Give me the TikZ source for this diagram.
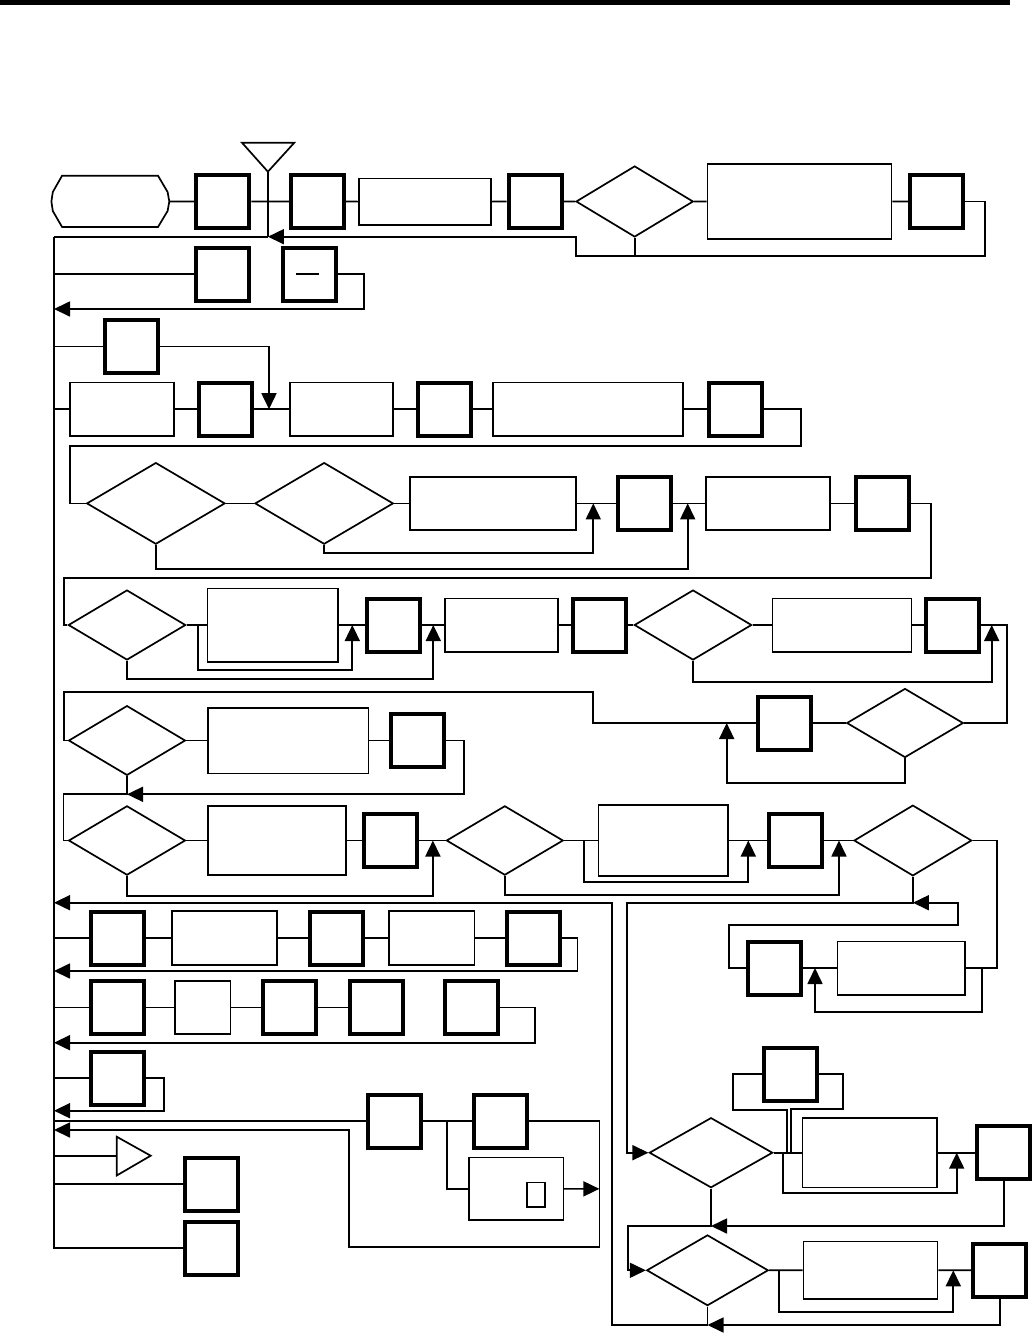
\documentclass[tikz,border=0pt]{standalone}
\usetikzlibrary{arrows.meta,shapes.geometric}
\tikzset{
 ln/.style={line width=1.7pt},
 arr/.style={line width=1.7pt,-{Triangle[length=16pt,width=15pt]}},
 tb/.style={draw,rectangle,line width=4pt,minimum width=53pt,minimum height=53pt,inner sep=0pt},
 trc/.style={draw,rectangle,line width=1.7pt,inner sep=0pt},
 dia/.style={draw,diamond,line width=1.7pt,inner sep=0pt},
}
\newcommand\trect[5]{\node[trc,minimum width={#4-#2-1.7},minimum height={#5-#3-1.7}] (#1) at ({(#2+#4)/2},{(#3+#5)/2}) {};}
\newcommand\dia[5]{\node[dia,minimum width={#3-#2},minimum height={#5}] (#1) at ({(#2+#3)/2},#4) {};}
\begin{document}
\begin{tikzpicture}[x=1pt,y=-1pt]
\useasboundingbox (0,0) rectangle (1033,1334);
\fill (0,0) rectangle (1010,4.5);

% ---------- nodes ----------
% row 1
\node[minimum width=118pt,minimum height=51pt,inner sep=0pt] (term) at (110.4,201.5) {};
\draw[ln] (62.1,175.7) -- (158,175.7) -- (167.6,192) -- (169.3,201.5) -- (167.6,211) -- (158,227) -- (62.1,227) -- (52.8,211) -- (51.4,201.5) -- (52.8,192) -- cycle;
\node[tb] (b1) at (222.9,201.5) {};
\node[tb] (b2) at (317.5,201.5) {};
\trect{r3}{357.9}{177.7}{491.8}{225.5}
\node[tb] (b4) at (535,201.5) {};
\dia{d5}{576}{693.3}{201.5}{71}
\trect{r6}{706.7}{163.3}{892.3}{239.7}
\node[tb] (b7) at (936.4,201.5) {};
\draw[ln] (242,142.7) -- (294.3,142.7) -- (267.9,171.7) -- cycle;
\coordinate (triT) at (267.9,171.7);
\coordinate (tap) at (267.9,236.7);
\coordinate (Ltop) at (54,236.7);
\coordinate (Lbot) at (54,1248);

% row 2
\node[tb] (b21) at (222.9,274.3) {};
\node[tb] (b22) at (309.7,274.3) {};
\draw[ln] ([xshift=-13.3pt]b22.center) -- ([xshift=8.9pt]b22.center);
% row 3
\node[tb] (b3) at (131.4,346.4) {};
% row 4
\trect{r41}{69.3}{381.7}{175}{436.7}
\node[tb] (b41) at (225.4,409.2) {};
\trect{r42}{289.3}{381.7}{393.6}{436.7}
\node[tb] (b42) at (444.5,409.2) {};
\trect{r43}{491.8}{381.7}{684}{436.7}
\node[tb] (b43) at (735.4,409.2) {};
% row 5
\dia{A}{86.7}{225}{503.4}{81.6}
\dia{B}{255}{393.3}{503.4}{81.6}
\trect{C}{409.3}{475.9}{576.7}{530.9}
\node[tb] (D) at (644.7,503.4) {};
\trect{E}{705}{475.9}{831}{530.9}
\node[tb] (F) at (882,503.4) {};
% row 6
\dia{G}{68.3}{185.7}{625}{70}
\trect{H}{206.7}{587.5}{339}{662.5}
\node[tb] (I) at (393.7,625) {};
\trect{J}{444.3}{597.5}{559}{652.5}
\node[tb] (K) at (599.4,625) {};
\dia{L}{634.3}{751.7}{625}{70}
\trect{M}{771.7}{597.5}{912.3}{652.5}
\node[tb] (N) at (952.5,625) {};
% row 7
\dia{P}{846.7}{963.3}{723}{69}
\node[tb] (Q) at (784.2,723) {};
\dia{R}{68.6}{185.4}{740.5}{69.7}
\trect{S}{206.8}{706.8}{369.3}{774.2}
\node[tb] (T) at (417.5,740.5) {};
% row 8
\dia{U}{68.6}{185.4}{840.5}{69.3}
\trect{V}{206.8}{805}{347.1}{876}
\node[tb] (W) at (390.6,840.5) {};
\dia{X}{446.4}{563.2}{840.5}{69.3}
\trect{Y}{597.7}{804.3}{729}{876.7}
\node[tb] (Z) at (795.7,840.5) {};
\dia{AA}{854}{971.7}{840.5}{70.7}
\node[tb] (AC) at (774.2,968) {};
\trect{AD}{836.7}{940.5}{966}{995.5}
% right bottom
\node[tb] (BB) at (790.7,1074) {};
\dia{BA}{649.3}{772.7}{1152.7}{70}
\trect{BC}{801.7}{1117.2}{937.7}{1188.2}
\node[tb] (BD) at (1003.7,1152.7) {};
\dia{BE}{646.7}{768.3}{1270.3}{70.7}
\trect{BF}{802.7}{1240.7}{938.3}{1299.9}
\node[tb] (BG) at (999.7,1270.3) {};
% row 9
\node[tb] (b91) at (117.7,938) {};
\trect{r91}{171.3}{910}{277.9}{966}
\node[tb] (b92) at (336.9,938) {};
\trect{r92}{387.8}{910}{475.4}{966}
\node[tb] (b93) at (533.3,938) {};
% row 10
\node[tb] (b101) at (117.7,1007.4) {};
\trect{r101}{174}{979.9}{231.3}{1034.9}
\node[tb] (b102) at (289.9,1007.4) {};
\node[tb] (b103) at (376.7,1007.4) {};
\node[tb] (b104) at (471,1007.4) {};
% row 11
\node[tb] (b111) at (117.7,1078) {};
% row 12
\node[tb] (b121) at (394.7,1121) {};
\node[tb] (b122) at (500.3,1121) {};
\trect{r12}{468}{1156.7}{564.2}{1221}
\trect{r12s}{525.8}{1181.7}{546.1}{1207.7}
% bottom left
\draw[ln] (116.7,1136.7) -- (116.7,1175.5) -- (150.7,1155.7) -- cycle;
\coordinate (triR) at (116.7,1155.7);
\node[tb] (bl1) at (211.7,1184) {};
\node[tb] (bl2) at (211.7,1248) {};

% ---------- connectors ----------
% row 1
\draw[ln] (term.east) -- (b1.west) (b1.east) -- (b2.west) (b2.east) -- (r3.west) (r3.east) -- (b4.west) (b4.east) -- (d5.west) (d5.east) -- (r6.west) (r6.east) -- (b7.west);
\draw[ln] (triT) -- (tap);
\draw[arr] (b7.east) -| (985,255.7) -| (576,236.7) -- (tap);
\draw[ln] (tap) -- (Ltop);
\draw[ln] (d5.south) -- ++(0,18.5);
% left spine
\draw[ln] (Ltop) -- (Lbot) -- (bl2.west);
% row 2
\draw[ln] (54,274.3) -- (b21.west);
\draw[arr] (b22.east) -| (364,309) -- (54,309);
% row 3
\draw[ln] (54,346.4) -- (b3.west);
\draw[arr] (b3.east) -| (269,409.2);
% row 4
\draw[ln] (54,409.2) -- (r41.west) (r41.east) -- (b41.west) (b41.east) -- (r42.west) (r42.east) -- (b42.west) (b42.east) -- (r43.west) (r43.east) -- (b43.west);
\draw[ln] (b43.east) -| (800.7,445.7) -| (70,503.4) -- (A.west);
% row 5
\draw[ln] (A.east) -- (B.west) (B.east) -- (C.west) (C.east) -- (D.west) (D.east) -- (E.west) (E.east) -- (F.west);
\draw[arr] (B.south) |- (593.3,552.7) -- (593.3,503.4);
\draw[arr] (A.south) |- (687.7,569.3) -- (687.7,503.4);
\draw[ln] (F.east) -| (931,577.7) -| (64.3,625) -- (G.west);
% row 6
\draw[ln] (G.east) -- (H.west) (H.east) -- (I.west) (I.east) -- (J.west) (J.east) -- (K.west) (K.east) -- (L.west) (L.east) -- (M.west) (M.east) -- (N.west);
\draw[arr] (197.7,625) |- (352.3,670) -- (352.3,625);
\draw[arr] (G.south) |- (433.3,679.3) -- (433.3,625);
\draw[arr] (L.south) |- (991.7,681.7) -- (991.7,625);
\draw[ln] (N.east) -| (1006.7,723) -- (P.east);
% row 7
\draw[ln] (P.west) -- (Q.east);
\draw[ln] (Q.west) -| (593.3,691.7) -| (64.3,740.5) -- (R.west);
\draw[arr] (P.south) |- (726.7,783) -- (726.7,723);
\draw[ln] (R.east) -- (S.west) (S.east) -- (T.west);
\draw[arr] (T.east) -| (464.3,794.3) -- (127,794.3);
\draw[ln] (R.south) |- (63.6,794.3) |- (U.west);
% row 8
\draw[ln] (U.east) -- (V.west) (V.east) -- (W.west) (W.east) -- (X.west) (X.east) -- (Y.west) (Y.east) -- (Z.west) (Z.east) -- (AA.west);
\draw[arr] (U.south) |- (432.9,895.7) -- (432.9,840.5);
\draw[arr] (584,840.5) |- (748.3,881.7) -- (748.3,840.5);
\draw[arr] (X.south) |- (839,895) -- (839,840.5);
\draw[ln] (AC.east) -- (AD.west);
\draw[ln] (AA.east) -| (996.7,968) -- (AD.east);
\draw[arr] (981.7,968) |- (815,1011.7) -- (815,968);
\draw[arr] (AC.west) -| (729.3,925) -| (958.3,902.7) -- (912.9,902.7);
\draw[arr] (AA.south) |- (626.7,902.7) |- (BA.west);
% right bottom
\draw[ln] (BA.east) -- (BC.west) (BC.east) -- (BD.west);
\draw[arr] (782.7,1152.7) |- (956.7,1193.3) -- (956.7,1152.7);
\draw[ln] (786.7,1152.7) |- (733.3,1110) |- (BB.west);
\draw[ln] (BB.east) -| (843.3,1109) -| (791,1152.7);
\draw[arr] (BD.south) |- (711,1226);
\draw[arr] (BA.south) |- (628.3,1226) |- (BE.west);
\draw[ln] (BE.east) -- (BF.west) (BF.east) -- (BG.west);
\draw[arr] (779.3,1270.3) |- (953.3,1311.7) -- (953.3,1270.3);
\draw[arr] (BG.south) |- (707.5,1325);
\draw[arr] (BE.south) |- (611.7,1325) |- (54,902.7);
% row 9
\draw[ln] (54,938) -- (b91.west) (b91.east) -- (r91.west) (r91.east) -- (b92.west) (b92.east) -- (r92.west) (r92.east) -- (b93.west);
\draw[arr] (b93.east) -| (577.6,971) -- (54,971);
% row 10
\draw[ln] (54,1007.4) -- (b101.west) (b101.east) -- (r101.west) (r101.east) -- (b102.west) (b102.east) -- (b103.west);
\draw[arr] (b104.east) -| (535,1042.7) -- (54,1042.7);
% row 11
\draw[ln] (54,1078) -- (b111.west);
\draw[arr] (b111.east) -| (164,1110.7) -- (54,1110.7);
% row 12
\draw[ln] (54,1121) -- (b121.west) (b121.east) -- (b122.west);
\draw[ln] (447,1121) |- (r12.west);
\draw[arr] (r12.east) -- (599.4,1188.85);
\draw[arr] (b122.east) -| (599.4,1246.7) -| (349,1130) -- (54,1130);
% bottom left
\draw[ln] (54,1155.7) -- (triR);
\draw[ln] (54,1184) -- (bl1.west);
\end{tikzpicture}
\end{document}
